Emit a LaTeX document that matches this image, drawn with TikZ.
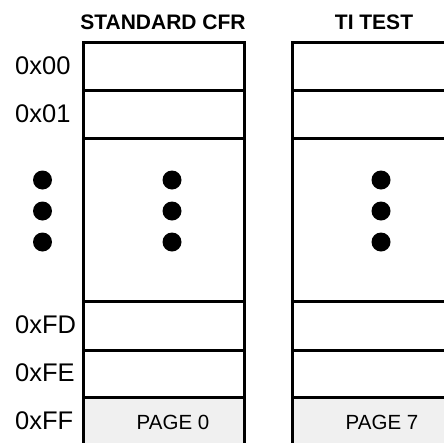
\documentclass[tikz,border=0pt]{standalone}
\usepackage{fontspec}
\setmainfont{Liberation Sans}
\usepackage{xcolor}
\usetikzlibrary{positioning}
\definecolor{pagegray}{HTML}{F0F0F0}

\begin{document}
\begin{tikzpicture}[x=1pt, y=-1pt,
        frame/.style={draw, line width=3pt},
        addr/.style={anchor=west, inner sep=0pt, font=\fontsize{25.5}{30}\selectfont},
        title/.style={inner sep=0pt, font=\fontsize{21}{25}\selectfont\bfseries},
        pagelabel/.style={inner sep=0pt, font=\fontsize{20.5}{24}\selectfont},
        dot/.style={circle, fill=black, inner sep=0pt, minimum size=19pt}]
            \useasboundingbox (0,0) rectangle (444,442);
            \clip (0,0) rectangle (444,442);

            % Titles
            \node[title] (std) at (163, 22) {STANDARD CFR};
            \node[title] (ti) at (374, 22) {TI TEST};

            % Columns
            \foreach \xa/\xb in {83/244, 292/470} {
                \fill[pagegray] (\xa, 397) rectangle (\xb, 450);
                \draw[frame] (\xa, 450) -- (\xa, 42) -- (\xb, 42) -- (\xb, 450);
                \foreach \y in {90, 138, 301, 350, 397}
                    \draw[frame] (\xa, \y) -- (\xb, \y);
            }
            \node[pagelabel] (page0) at (173, 422) {PAGE 0};
            \node[pagelabel] (page7) at (382, 422) {PAGE 7};

            % Addresses
            \node[addr] (a00) at (15, 66) {0x00};
            \node[addr] (a01) at (15, 114) {0x01};
            \node[addr] (afd) at (15, 325) {0xFD};
            \node[addr] (afe) at (15, 373) {0xFE};
            \node[addr] (aff) at (15, 421) {0xFF};

            % Dots
            \foreach \x/\n in {42.5/l, 172/m, 381/r} {
                \node[dot] (\n1) at (\x, 180) {};
                \node[dot] (\n2) at (\x, 211) {};
                \node[dot] (\n3) at (\x, 242) {};
            }
        \end{tikzpicture}
\end{document}
